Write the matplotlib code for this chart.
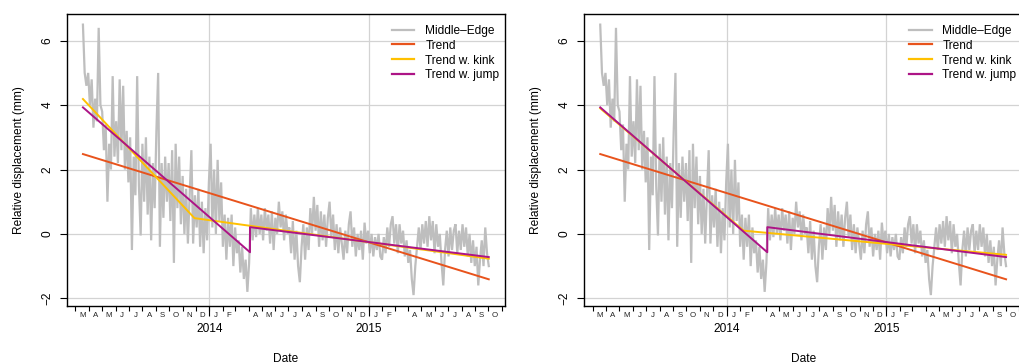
"""
Middle-Edge relative displacement with three trend models
(left: kink fitted freely, right: kink at the jump date)
"""

import matplotlib
matplotlib.use('Agg')
import matplotlib.pyplot as plt
import matplotlib.dates as mdates
import pandas as pd

plt.rcParams['font.family'] = ['Liberation Sans', 'DejaVu Sans']

# ── data (4-day steps) ──────────────────────────────────────────────────────
series_start = '2013-03-18'
series_step = '4D'
middle_edge = [
    6.5, 5.0, 4.6, 5.0, 4.0, 4.8, 3.3, 4.2, 3.5, 6.4,
    4.0, 3.8, 2.6, 3.4, 1.0, 2.8, 2.0, 4.9, 2.4, 3.5,
    2.2, 4.8, 2.6, 4.6, 2.0, 3.2, 1.6, 3.0, -0.5, 2.4,
    1.2, 4.9, 1.5, -0.05, 2.8, 1.0, 3.0, 0.6, 2.4, -0.2,
    2.2, 0.8, 3.2, 5.0, -0.4, 2.2, 0.5, 2.4, 1.0, 2.2,
    0.4, 2.6, -0.9, 2.8, 0.8, 2.4, 0.3, 1.8, 0.0, 1.4,
    -0.3, 1.2, 2.6, -0.3, 1.2, 0.2, 1.4, -0.4, 1.0, -0.6,
    0.8, -0.2, 1.6, 2.8, 0.2, 2.0, 0.0, 2.3, 0.4, 1.6,
    -0.4, 0.6, -0.8, 0.5, -0.4, 0.6, -1.0, 0.2, -0.6, -0.2,
    -1.2, -0.4, -1.4, -0.8, -1.8, -0.9, 0.8, -0.2, 0.6, -0.1,
    0.8, 0.0, 0.6, -0.2, 0.8, 0.1, 0.6, -0.3, 0.7, -0.5,
    0.5, 0.0, 1.0, 0.2, 0.7, -0.2, 0.6, 0.0, 0.2, -0.6,
    0.4, -0.8, 0.1, -1.0, -1.5, -0.4, 0.3, -0.8, 0.2, -0.5,
    0.8, 0.0, 1.15, 0.1, 0.9, -0.4, 0.7, -0.2, 0.6, -0.4,
    0.5, 1.0, -0.1, 0.6, -0.5, 0.3, -0.6, 0.2, -0.3, -0.8,
    0.1, -0.6, 0.3, 0.7, -0.4, 0.2, -0.7, 0.0, -0.5, 0.1,
    -0.8, 0.35, -0.3, 0.1, -0.6, 0.0, -0.7, -0.1, -0.5, 0.0,
    -0.7, -0.8, -0.1, -0.6, 0.2, -0.4, 0.3, 0.55, -0.3, 0.3,
    -0.6, 0.3, -0.3, 0.1, -0.7, -0.2, -0.9, -0.5, -1.4, -1.9,
    -1.0, -0.4, 0.2, -0.5, 0.3, -0.3, 0.4, -0.4, 0.55, -0.2,
    0.4, -0.6, 0.3, -0.4, 0.0, -0.9, -1.6, -0.5, 0.1, -0.7,
    0.2, -0.5, 0.1, 0.3, -0.6, 0.1, -0.5, 0.3, -0.4, 0.2,
    -0.7, 0.0, -0.9, -0.2, -1.0, -0.4, -1.6, -0.8, -0.2, -1.0,
    0.2, -0.6, -1.0,
]

# plain linear trend (same in both panels)
trend_dates = ['2013-03-18', '2015-10-02']
trend_vals = [2.48, -1.41]

# trend with kink: left panel free kink, right panel kink in February
kink_dates_left = ['2013-03-18', '2013-11-28', '2015-10-02']
kink_vals_left = [4.19, 0.49, -0.77]
kink_dates_right = ['2013-03-18', '2014-02-09', '2015-10-02']
kink_vals_right = [3.90, 0.10, -0.65]

# trend with jump (same in both panels)
jump_dates = ['2013-03-18', '2014-04-04', '2014-04-04', '2015-10-02']
jump_vals = [3.93, -0.57, 0.21, -0.72]

# month letters (March 2014 / 2015 have no label in the original)
month_labels = ['M', 'A', 'M', 'J', 'J', 'A', 'S', 'O', 'N', 'D',
                'J', 'F', '', 'A', 'M', 'J', 'J', 'A', 'S', 'O', 'N', 'D',
                'J', 'F', '', 'A', 'M', 'J', 'J', 'A', 'S', 'O']
year_labels = ['2014', '2015']

C_GREY = '#BEBEBE'
C_TREND = '#E8531C'
C_KINK = '#FFC000'
C_JUMP = '#AD1486'
C_GRID = '#D3D3D3'

me_dates = pd.date_range(series_start, periods=len(middle_edge), freq=series_step)

# ── axis helpers ────────────────────────────────────────────────────────────
month_starts = pd.date_range('2013-03-01', '2015-11-01', freq='MS')
month_mids = [a + (b - a) / 2 for a, b in zip(month_starts[:-1], month_starts[1:])]
year_starts = pd.to_datetime(['2014-01-01', '2015-01-01'])

# R-style 4 % padding around the data
span = me_dates[-1] - me_dates[0]
xlim = (me_dates[0] - 0.04 * span, me_dates[-1] + 0.04 * span)
ylim = (-2.23, 6.83)

fig = plt.figure(figsize=(10.19, 3.63), dpi=100)
W, H = 1019, 363
ax_w, ax_h = 438.3 / W, 291.7 / H
ax_y0 = 1 - 305.7 / H
axes = [fig.add_axes([66.7 / W, ax_y0, ax_w, ax_h]),
        fig.add_axes([584.0 / W, ax_y0, ax_w, ax_h])]

panels = [(kink_dates_left, kink_vals_left), (kink_dates_right, kink_vals_right)]

for ax, (kd, kv) in zip(axes, panels):
    # grid first
    for yy in [-2, 0, 2, 4, 6]:
        ax.axhline(yy, color=C_GRID, lw=0.9, zorder=0)
    for xx in year_starts:
        ax.axvline(xx, color=C_GRID, lw=0.9, zorder=0)

    ax.plot(me_dates, middle_edge, color=C_GREY, lw=1.6, label='Middle\u2013Edge',
            zorder=2, solid_joinstyle='miter')
    ax.plot(pd.to_datetime(trend_dates), trend_vals, color=C_TREND, lw=1.4, label='Trend', zorder=3)
    ax.plot(pd.to_datetime(kd), kv, color=C_KINK, lw=1.4, label='Trend w. kink', zorder=4)
    ax.plot(pd.to_datetime(jump_dates), jump_vals, color=C_JUMP, lw=1.4, label='Trend w. jump', zorder=5)

    ax.set_xlim(xlim)
    ax.set_ylim(ylim)

    # y axis
    ax.set_yticks([-2, 0, 2, 4, 6])
    ax.tick_params(axis='y', length=5, width=0.8, pad=4.5, labelsize=8.6, labelrotation=90)
    for lab in ax.get_yticklabels():
        lab.set_va('center')
    ax.set_ylabel('Relative displacement (mm)', fontsize=8.6)
    ax.yaxis.set_label_coords(-0.095, 0.5)

    # x axis: month-start ticks, month letters at mid-month
    ax.set_xticks(mdates.date2num(month_starts))
    ax.set_xticklabels([''] * len(month_starts))
    ax.tick_params(axis='x', which='major', length=3.6, width=0.8)
    ax.set_xticks(mdates.date2num(month_mids), minor=True)
    ax.set_xticklabels(month_labels, minor=True)
    ax.tick_params(axis='x', which='minor', length=0, pad=4.3, labelsize=5.7,
                   labelcolor='#222222')

    # years on a secondary axis with longer ticks
    sec = ax.secondary_xaxis('bottom')
    sec.spines['bottom'].set_visible(False)
    sec.set_xticks(mdates.date2num(year_starts))
    sec.set_xticklabels(year_labels)
    sec.tick_params(axis='x', length=7.2, width=0.8, pad=5.0, labelsize=8.6)

    ax.set_xlabel('Date', fontsize=8.6)
    ax.xaxis.set_label_coords(0.5, -0.162)

    for s in ax.spines.values():
        s.set_linewidth(1.0)

    leg = ax.legend(loc='upper right', bbox_to_anchor=(0.987, 0.963), frameon=False,
                    fontsize=8.6, handlelength=1.9, handletextpad=0.9,
                    labelspacing=0.24, borderpad=0, borderaxespad=0)
    for line in leg.get_lines():
        line.set_linewidth(1.6)

fig.savefig('out.png', dpi=100, facecolor='white')
